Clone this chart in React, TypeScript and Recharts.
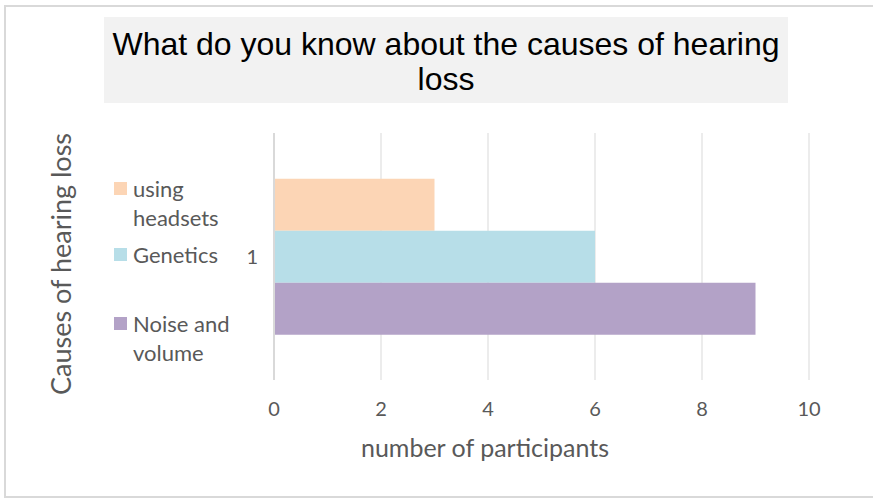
import { BarChart, Bar, XAxis, YAxis, CartesianGrid, Label } from 'recharts';

const categories = ['1'];
const seriesNames = ['using headsets', 'Genetics', 'Noise and volume'];
const seriesValues = [3, 6, 9];
const seriesColors = ['#fcd5b5', '#b7dee8', '#b3a2c7'];
const xTicks = [0, 2, 4, 6, 8, 10];

const data = categories.map((name) => {
  const row: Record<string, string | number> = { name };
  seriesNames.forEach((s, i) => {
    row[s] = seriesValues[i];
  });
  return row;
});

const FONT = 'Lato, "Open Sans", sans-serif';
const GREY = '#595959';

// legend sits to the left of the axis, entries wrap onto two lines
const legendTops = [174, 240, 309];

const SideLegend = () => (
  <div style={{ position: 'absolute', left: 114, top: 0 }}>
    {seriesNames.map((name, i) => (
      <div
        key={name}
        style={{
          position: 'absolute',
          left: 0,
          top: legendTops[i],
          display: 'flex',
          alignItems: 'flex-start',
          fontFamily: FONT,
          fontSize: 22,
          lineHeight: '29px',
          color: GREY,
        }}
      >
        <span
          style={{
            display: 'inline-block',
            flex: 'none',
            width: 13,
            height: 13,
            background: seriesColors[i],
            marginTop: 8,
            marginRight: 6,
          }}
        />
        <span style={{ width: 110 }}>{name}</span>
      </div>
    ))}
  </div>
);

export default function App() {
  return (
    <div style={{ position: 'fixed', left: 0, top: 0, width: 873, height: 498, background: '#fff', overflow: 'hidden' }}>
      <div
        style={{
          position: 'absolute',
          left: 104,
          top: 17,
          width: 684,
          height: 86,
          background: '#f2f2f2',
          fontFamily: '"Liberation Sans", Arial, sans-serif',
          fontSize: 32,
          lineHeight: '35px',
          textAlign: 'center',
          color: '#000',
          paddingTop: 10,
          boxSizing: 'border-box',
          whiteSpace: 'nowrap',
        }}
      >
        What do you know about the causes of hearing
        <br />
        loss
      </div>
      <div style={{ position: 'absolute', left: 0, top: 0 }}>
        <BarChart
          width={873}
          height={498}
          data={data}
          layout="vertical"
          margin={{ top: 133, right: 64, bottom: 0, left: 0 }}
          barCategoryGap="18.5%"
          barGap={0}
        >
          <CartesianGrid horizontal={false} vertical stroke="#d9d9d9" />
          <XAxis
            type="number"
            domain={[0, 10]}
            ticks={xTicks}
            axisLine={false}
            tickLine={false}
            tickSize={0}
            tickMargin={22}
            height={118}
            tick={{ fill: GREY, fontSize: 20, fontFamily: FONT }}
          >
            <Label
              content={() => (
                <text x={485} y={457} textAnchor="middle" fill={GREY} fontSize={25} fontFamily={FONT}>
                  number of participants
                </text>
              )}
            />
          </XAxis>
          <YAxis
            type="category"
            dataKey="name"
            width={274}
            axisLine={{ stroke: '#d9d9d9', strokeWidth: 2 }}
            tickLine={false}
            tickSize={0}
            tickMargin={16}
            tick={{ fill: GREY, fontSize: 20, fontFamily: FONT }}
          >
            <Label
              content={() => (
                <text
                  x={71}
                  y={264}
                  transform="rotate(-90 71 264)"
                  textAnchor="middle"
                  fill={GREY}
                  fontSize={27}
                  fontFamily={FONT}
                >
                  Causes of hearing loss
                </text>
              )}
            />
          </YAxis>
          {seriesNames.map((s, i) => (
            <Bar key={s} dataKey={s} fill={seriesColors[i]} isAnimationActive={false} />
          ))}
        </BarChart>
      </div>
      <SideLegend />
      {/* chart frame, drawn last so it stays on top */}
      <div
        style={{
          position: 'absolute',
          left: 4,
          top: 5,
          right: -10,
          bottom: 0,
          borderTop: '2px solid #d9d9d9',
          borderLeft: '2px solid #d9d9d9',
          borderBottom: '2px solid #d9d9d9',
          pointerEvents: 'none',
        }}
      />
    </div>
  );
}
